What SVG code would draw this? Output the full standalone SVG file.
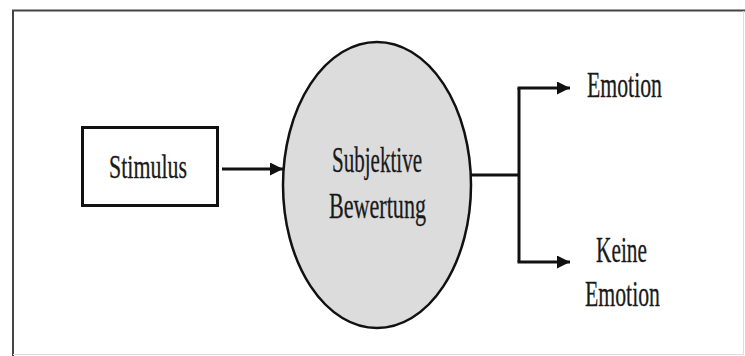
<svg xmlns="http://www.w3.org/2000/svg" width="745" height="356" viewBox="0 0 745 356">
<style>
.lbl{font-family:"Liberation Serif","Times New Roman","DejaVu Serif",serif;font-size:35px;fill:#1a1a1a;stroke:#1a1a1a;stroke-width:0.3;text-anchor:middle}
.ln{stroke:#111;stroke-width:3;fill:none}
</style>
<defs>
<marker id="ah" viewBox="0 0 10 10" refX="10" refY="5" markerWidth="13" markerHeight="13" markerUnits="userSpaceOnUse" orient="auto">
<path d="M0,0 L10,5 L0,10 z" fill="#111"/>
</marker>
</defs>
<rect width="745" height="356" fill="#fff"/>
<path d="M13,356 V10.5 H745" fill="none" stroke="#444" stroke-width="2"/>
<path d="M743.5,11 V354.5 H13" fill="none" stroke="#ddd" stroke-width="1"/>
<g id="stimulus">
<rect x="82.5" y="127.5" width="135" height="78" fill="#fff" stroke="#111" stroke-width="3"/>
<text class="lbl" x="148" y="178" textLength="78" lengthAdjust="spacingAndGlyphs" style="font-size:33px">Stimulus</text>
</g>
<g id="bewertung">
<ellipse cx="377" cy="185" rx="94" ry="143" fill="#dcdcdc" stroke="#111" stroke-width="2.5"/>
<text class="lbl" x="377" y="172" textLength="90" lengthAdjust="spacingAndGlyphs">Subjektive</text>
<text class="lbl" x="377.5" y="218" textLength="97" lengthAdjust="spacingAndGlyphs">Bewertung</text>
</g>
<g id="emotion">
<text class="lbl" x="624.5" y="97" textLength="75" lengthAdjust="spacingAndGlyphs">Emotion</text>
</g>
<g id="keine-emotion">
<text class="lbl" x="621.5" y="262" textLength="51" lengthAdjust="spacingAndGlyphs">Keine</text>
<text class="lbl" x="622.5" y="306" textLength="75" lengthAdjust="spacingAndGlyphs">Emotion</text>
</g>
<g id="connectors">
<line class="ln" x1="222" y1="169" x2="283" y2="169" marker-end="url(#ah)"/>
<path class="ln" d="M471,175 H519"/>
<path class="ln" d="M519,88 V262"/>
<line class="ln" x1="517.5" y1="88" x2="570" y2="88" marker-end="url(#ah)"/>
<line class="ln" x1="517.5" y1="262" x2="570" y2="262" marker-end="url(#ah)"/>
</g>
</svg>
